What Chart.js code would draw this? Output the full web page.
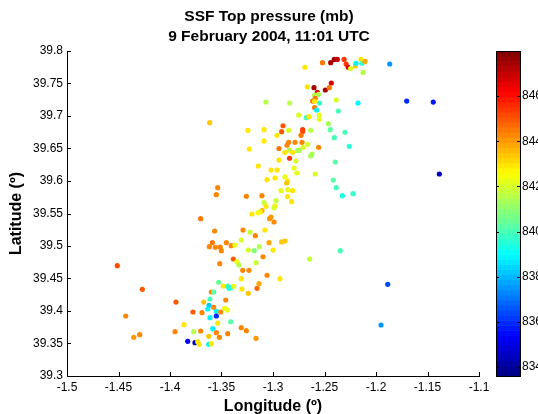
<!DOCTYPE html>
<html lang="en">
<head>
  <meta charset="UTF-8" />
  <title>SSF Top pressure</title>
  <script src="https://cdn.jsdelivr.net/npm/chart.js"></script>
  <style>
    body { margin: 0; background: #fff; }
    #chart { display: block; }
  </style>
</head>
<body>
  <canvas id="chart" width="538" height="414"></canvas>
  <script>
    // texts
    const titleLines = ['SSF Top pressure (mb)', '9 February 2004, 11:01 UTC'];
    const xTitle = 'Longitude (º)';
    const yTitle = 'Latitude (º)';

    // tick values
    const xTicks = [-1.5, -1.45, -1.4, -1.35, -1.3, -1.25, -1.2, -1.15, -1.1];
    const yTicks = [39.3, 39.35, 39.4, 39.45, 39.5, 39.55, 39.6, 39.65, 39.7, 39.75, 39.8];
    const cbTicks = [834, 836, 838, 840, 842, 844, 846];
    const cMin = 833.6, cMax = 848;

    // footprints: longitude, latitude, top pressure (mb)
    const lon = [
      -1.269, -1.252, -1.244, -1.2405, -1.2376, -1.231, -1.229, -1.227, -1.2246, -1.220,
      -1.2194, -1.2146, -1.2136, -1.2107, -1.2126, -1.1867, -1.2602, -1.2667, -1.257, -1.2492,
      -1.2434, -1.2453, -1.2596, -1.2557, -1.259, -1.2615, -1.2596, -1.2547, -1.2386, -1.2175,
      -1.3068, -1.2838, -1.2596, -1.2576, -1.2366, -1.2751, -1.2677, -1.265, -1.255, -1.255,
      -1.3615, -1.2463, -1.2444, -1.2301, -1.2405, -1.226, -1.2395, -1.2414, -1.2386, -1.2327,
      -1.2223, -1.259, -1.3243, -1.3087, -1.2903, -1.2916, -1.2848, -1.2712, -1.2712, -1.2634,
      -1.2728, -1.2961, -1.3087, -1.323, -1.2942, -1.2848, -1.2786, -1.2718, -1.2864, -1.2664,
      -1.2557, -1.2709, -1.2842, -1.2884, -1.281, -1.2761, -1.2745, -1.2621, -1.2634, -1.2839,
      -1.2942, -1.2777, -1.3143, -1.3019, -1.2961, -1.2796, -1.277, -1.2884, -1.2981, -1.3058,
      -1.2858, -1.2868, -1.3537, -1.355, -1.2922, -1.2858, -1.281, -1.2858, -1.3107, -1.3259,
      -1.2971, -1.2819, -1.3087, -1.3068, -1.2981, -1.299, -1.3107, -1.3123, -1.3143, -1.3204,
      -1.3019, -1.3033, -1.299, -1.3702, -1.3567, -1.3291, -1.3223, -1.3172, -1.3078, -1.3589,
      -1.3453, -1.3618, -1.356, -1.3512, -1.3502, -1.3405, -1.3369, -1.3308, -1.324, -1.3182,
      -1.3165, -1.3385, -1.3517, -1.335, -1.333, -1.3294, -1.3233, -1.3308, -1.3301, -1.324,
      -1.3155, -1.3136, -1.4512, -1.4269, -1.3942, -1.443, -1.4294, -1.4352, -1.3951, -1.3864,
      -1.3777, -1.3689, -1.3673, -1.3621, -1.3612, -1.3576, -1.3634, -1.355, -1.3508, -1.3612,
      -1.355, -1.3469, -1.3444, -1.3527, -1.3483, -1.344, -1.3427, -1.3411, -1.3382, -1.3599,
      -1.3576, -1.3459, -1.3411, -1.3537, -1.3585, -1.355, -1.3624, -1.3521, -1.344, -1.3702,
      -1.377, -1.3828, -1.3757, -1.3731, -1.3716, -1.3624, -1.3599, -1.3308, -1.3259, -1.3165,
      -1.3039, -1.2916, -1.2883, -1.3133, -1.2999, -1.3097, -1.3058, -1.2932, -1.2644, -1.2347,
      -1.1886, -1.1951, -1.1702, -1.1444, -1.1385
    ];
    const lat = [
      39.775, 39.782, 39.782, 39.787, 39.787, 39.787, 39.780, 39.775, 39.773, 39.777,
      39.781, 39.787, 39.781, 39.784, 39.767, 39.780, 39.7436, 39.745, 39.7364, 39.74,
      39.7508, 39.7436, 39.7323, 39.7333, 39.7272, 39.723, 39.7226, 39.72, 39.7246, 39.72,
      39.7215, 39.72, 39.7128, 39.7092, 39.7077, 39.7015, 39.6974, 39.699, 39.7015, 39.695,
      39.6897, 39.6882, 39.679, 39.675, 39.6667, 39.6533, 39.6292, 39.6015, 39.5897, 39.5774,
      39.5805, 39.6108, 39.678, 39.679, 39.685, 39.6759, 39.678, 39.679, 39.676, 39.678,
      39.6703, 39.6703, 39.6615, 39.6492, 39.65, 39.6595, 39.6595, 39.6595, 39.655, 39.6565,
      39.6518, 39.6518, 39.6477, 39.6441, 39.6441, 39.6472, 39.6472, 39.6415, 39.6385, 39.635,
      39.6323, 39.6308, 39.6231, 39.6169, 39.6169, 39.62, 39.6123, 39.6062, 39.6046, 39.602,
      39.6, 39.5969, 39.5897, 39.5789, 39.5851, 39.5866, 39.5851, 39.5759, 39.5774, 39.5764,
      39.5697, 39.5682, 39.5667, 39.561, 39.5615, 39.559, 39.5543, 39.5528, 39.5513, 39.5492,
      39.5446, 39.542, 39.5369, 39.542, 39.5231, 39.5246, 39.5215, 39.5159, 39.5246, 39.5051,
      39.5051, 39.4989, 39.498, 39.4985, 39.4928, 39.5005, 39.5015, 39.5092, 39.4938, 39.4928,
      39.4743, 39.48, 39.4728, 39.4759, 39.4708, 39.4626, 39.4626, 39.4497, 39.4338, 39.4272,
      39.4349, 39.442, 39.4697, 39.4334, 39.4138, 39.3923, 39.3636, 39.3595, 39.3682, 39.379,
      39.3985, 39.3974, 39.4138, 39.4087, 39.4185, 39.4057, 39.4031, 39.3995, 39.3985, 39.3897,
      39.3923, 39.4042, 39.4015, 39.4442, 39.4385, 39.4385, 39.4349, 39.4359, 39.438, 39.4292,
      39.4292, 39.4169, 39.3835, 39.3815, 39.3728, 39.3666, 39.3611, 39.3595, 39.3651, 39.3692,
      39.3682, 39.3534, 39.3512, 39.3528, 39.3488, 39.3488, 39.3497, 39.3743, 39.3697, 39.358,
      39.5051, 39.5062, 39.5077, 39.4989, 39.4938, 39.4835, 39.4549, 39.4497, 39.48, 39.4928,
      39.4411, 39.3785, 39.723, 39.7215, 39.6108
    ];
    const pres = [
      843, 844.5, 847.5, 847.5, 847, 845.5, 845.5, 846.5, 842, 843.5,
      839, 843, 839.8, 843.8, 841.5, 837.5, 847.5, 843, 846.5, 847.5,
      846.8, 844.5, 841.5, 841.3, 844.5, 844.5, 843, 839.8, 842, 839,
      841.5, 841.5, 844.5, 839, 840, 842, 840, 843, 842.3, 842.3,
      843.5, 841.3, 840.3, 840, 840, 839.5, 840.3, 840.3, 840, 839.3,
      839.8, 842, 843, 843, 845, 845, 842, 845.5, 845.3, 841.5,
      844.5, 843, 843, 843, 844.5, 844.3, 844.3, 844.3, 844.3, 842,
      844.3, 842, 841.5, 843, 843, 841.5, 841.3, 841.3, 841.3, 845.5,
      843, 842, 843, 843, 843, 842.2, 842.2, 842.2, 843, 843,
      843, 843.5, 844.3, 844.3, 842.3, 842.3, 843, 843, 844.3, 844.3,
      841.8, 843, 841.8, 843, 843, 842, 843.8, 843, 842.5, 843,
      844, 844, 844.3, 844.5, 844.3, 844.3, 841.8, 844.3, 843, 844.5,
      844.3, 844.3, 844.3, 844.3, 844.3, 844.3, 842.3, 842, 842, 841,
      841.8, 845, 844.3, 842.3, 841.5, 844.3, 844.3, 843, 843, 843.5,
      844.8, 843.8, 845.3, 845, 845, 844.3, 844.3, 844, 844.3, 843,
      845, 844.3, 843.5, 838.3, 840, 844.3, 839, 839, 844.3, 839,
      836, 842.5, 842.3, 840.5, 843, 840, 839.3, 839.5, 842.3, 844.3,
      840.3, 844.3, 840.3, 843, 839, 844.3, 843.5, 844.3, 844.3, 844.3,
      841.5, 835.3, 834.5, 843, 843, 839, 843, 844.3, 844.3, 844,
      843.8, 843.5, 843.5, 841.5, 843, 844.3, 844.3, 843, 841.8, 840,
      836.5, 837.5, 836, 835.8, 834.5
    ];

    // MATLAB jet, 64 levels
    function jet(t) {
      const c = x => Math.round(255 * Math.min(1, Math.max(0, x)));
      return 'rgb(' + c(1.5 - Math.abs(4 * t - 3)) + ',' + c(1.5 - Math.abs(4 * t - 2)) + ',' + c(1.5 - Math.abs(4 * t - 1)) + ')';
    }
    function colorOf(v) {
      let i = Math.floor((v - cMin) / (cMax - cMin) * 64);
      i = Math.min(63, Math.max(0, i));
      return jet((i + 0.5) / 64);
    }

    const points = lon.map((x, i) => ({ x: x, y: lat[i] }));
    const font = '"Liberation Sans", Arial, Helvetica, sans-serif';
    Chart.defaults.font.family = font;
    Chart.defaults.font.size = 12;
    Chart.defaults.color = '#000';

    // inward ticks and the colour bar
    const matlabAxes = {
      id: 'matlabAxes',
      afterDraw(chart) {
        const { ctx, chartArea: a, scales } = chart;
        ctx.save();
        ctx.strokeStyle = '#000';
        ctx.lineWidth = 1;
        ctx.beginPath();
        scales.x.ticks.forEach(t => {
          const px = Math.round(scales.x.getPixelForValue(t.value)) + 0.5;
          ctx.moveTo(px, a.bottom);
          ctx.lineTo(px, a.bottom - 4);
        });
        scales.y.ticks.forEach(t => {
          const py = Math.round(scales.y.getPixelForValue(t.value)) + 0.5;
          ctx.moveTo(a.left, py);
          ctx.lineTo(a.left + 4, py);
        });
        ctx.stroke();

        const cb = scales.cb;
        const x0 = cb.left + 17, x1 = cb.left + 41;
        const step = (cMax - cMin) / 64;
        for (let i = 0; i < 64; i++) {
          const yTop = cb.getPixelForValue(cMin + (i + 1) * step);
          const yBot = cb.getPixelForValue(cMin + i * step);
          ctx.fillStyle = jet((i + 0.5) / 64);
          ctx.fillRect(x0, yTop, x1 - x0, yBot - yTop + 0.6);
        }
        ctx.strokeRect(x0 + 0.5, cb.top + 0.5, x1 - x0, cb.bottom - cb.top);
        ctx.beginPath();
        cbTicks.forEach(v => {
          const py = Math.round(cb.getPixelForValue(v)) + 0.5;
          ctx.moveTo(x0, py); ctx.lineTo(x0 + 3, py);
          ctx.moveTo(x1, py); ctx.lineTo(x1 - 3, py);
        });
        ctx.stroke();
        ctx.restore();
      }
    };

    new Chart(document.getElementById('chart'), {
      type: 'scatter',
      data: {
        datasets: [{
          data: points,
          backgroundColor: ctx => colorOf(pres[ctx.dataIndex]),
          borderWidth: 0,
          pointRadius: 2.6,
          pointHoverRadius: 2.6
        }]
      },
      options: {
        responsive: false,
        animation: false,
        events: [],
        layout: { padding: 0 },
        plugins: {
          legend: { display: false },
          tooltip: { enabled: false },
          title: {
            display: true,
            text: titleLines,
            color: '#000',
            font: { size: 15.5, weight: 'bold', lineHeight: '20px' },
            padding: { top: 7, bottom: 4 }
          }
        },
        scales: {
          x: {
            type: 'linear',
            position: 'bottom',
            min: -1.5,
            max: -1.1,
            afterBuildTicks: s => { s.ticks = xTicks.map(v => ({ value: v })); },
            afterFit: s => { s.height = 38; },
            ticks: { autoSkip: false, maxRotation: 0, padding: 4, callback: v => String(v) },
            grid: { display: false, drawTicks: false },
            border: { display: true, color: '#000', width: 1 },
            title: {
              display: true,
              text: xTitle,
              font: { size: 16, weight: 'bold', lineHeight: '14px' },
              padding: { top: 0, bottom: 0 }
            }
          },
          y: {
            type: 'linear',
            position: 'left',
            min: 39.3,
            max: 39.8,
            afterBuildTicks: s => { s.ticks = yTicks.map(v => ({ value: v })); },
            afterFit: s => { s.width = 67; },
            ticks: { autoSkip: false, padding: 4, callback: v => String(v) },
            grid: { display: false, drawTicks: false },
            border: { display: true, color: '#000', width: 1 },
            title: {
              display: true,
              text: yTitle,
              font: { size: 16, weight: 'bold', lineHeight: '16px' },
              padding: { top: 9, bottom: 0 }
            }
          },
          cb: {
            type: 'linear',
            position: 'right',
            min: cMin,
            max: cMax,
            afterBuildTicks: s => { s.ticks = cbTicks.map(v => ({ value: v })); },
            // big label padding must not push the plot area in
            afterFit: s => { s.width = 59; s.paddingTop = 0; s.paddingBottom = 0; },
            ticks: { autoSkip: false, padding: 43, callback: v => String(v) },
            grid: { display: false, drawTicks: false },
            border: { display: false }
          }
        }
      },
      plugins: [matlabAxes]
    });
  </script>
</body>
</html>
